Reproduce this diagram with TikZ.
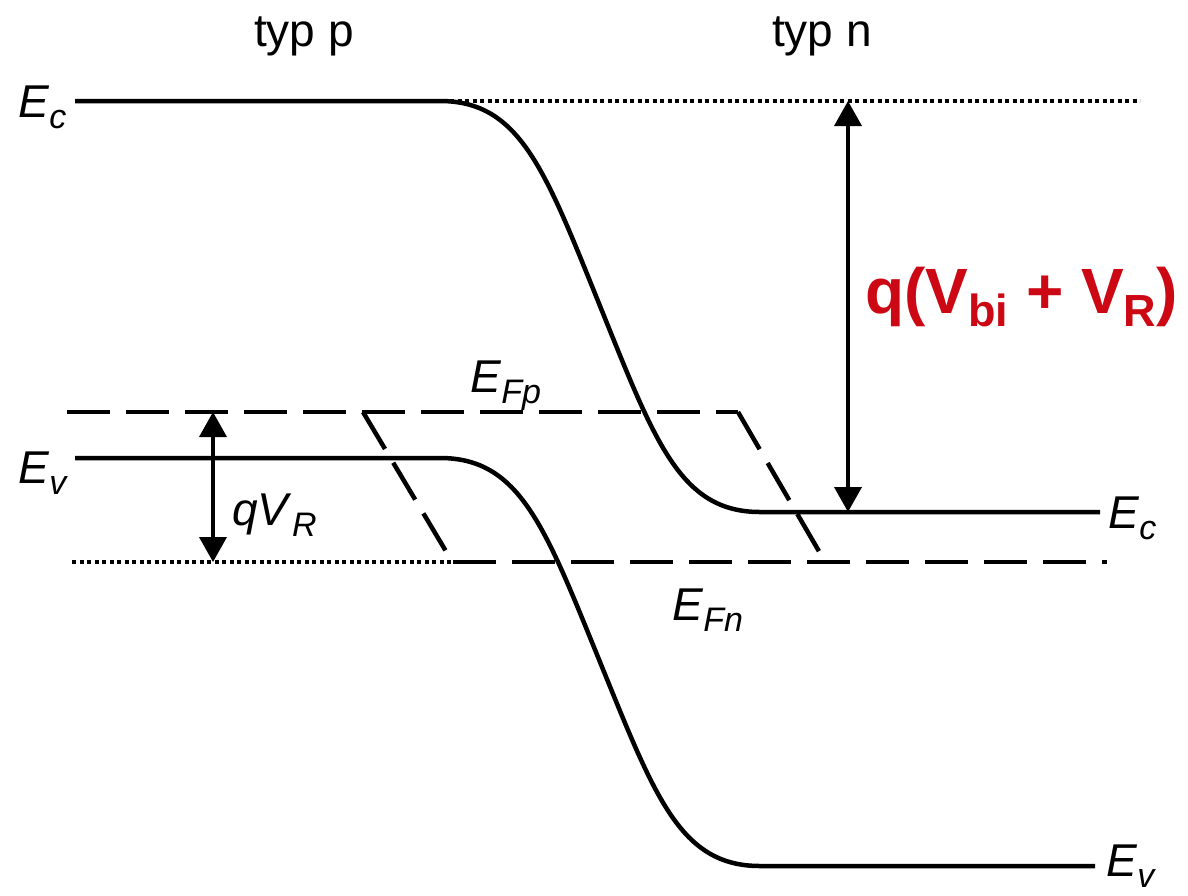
\documentclass[tikz,border=0pt]{standalone}
\usepackage{fontspec}
\setmainfont{Liberation Sans}
\usetikzlibrary{arrows.meta}
\definecolor{redlab}{RGB}{204,8,20}
\newcommand\lvlab[2]{\textit{#1}\raisebox{-11pt}{\fontsize{34}{34}\selectfont\itshape #2}}
\newcommand\redsub[1]{\raisebox{-13pt}{\fontsize{45}{45}\selectfont\bfseries #1}}
\begin{document}
\begin{tikzpicture}[x=1pt,y=-1pt,
  band/.style={line width=4.5pt},
  qfl/.style={line width=4.5pt, dash pattern=on 43pt off 16pt},
  refl/.style={line width=4pt, dash pattern=on 4pt off 3.5pt},
  dim/.style={line width=3.8pt, {Triangle[width=27pt,length=25pt]}-{Triangle[width=27pt,length=25pt]}},
  lab/.style={inner sep=0pt, anchor=base west, font=\fontsize{46}{46}\selectfont},
  head/.style={inner sep=0pt, anchor=base, font=\fontsize{46}{46}\selectfont}]
\useasboundingbox (0,0) rectangle (1188,895);
% key points
\coordinate (ecL) at (75,101);
\coordinate (ecR) at (1100,512);
\coordinate (evL) at (75,458);
\coordinate (evR) at (1095,866);
\coordinate (topA) at (450,101);
\coordinate (topB) at (1140,101);
\coordinate (botA) at (72,562);
\coordinate (botB) at (455,562);
\coordinate (fpA) at (67,412);
\coordinate (fpB) at (738,412);
\coordinate (fpC) at (820,553);
\coordinate (fnA) at (363,412);
\coordinate (fnB) at (447,553);
\coordinate (fnC) at (453,562);
\coordinate (fnD) at (1107,562);
\coordinate (bigT) at (848,101);
\coordinate (bigB) at (848,512);
\coordinate (smT) at (213,412);
\coordinate (smB) at (213,562);
% labels
\node[head] (typp) at (304,46) {typ p};
\node[head] (typn) at (822,46) {typ n};
\node[lab] (lEcL) at (18,117) {\lvlab{E}{c}};
\node[lab] (lEvL) at (18,483) {\lvlab{E}{v}};
\node[lab] (lEcR) at (1108,528) {\lvlab{E}{c}};
\node[lab] (lEvR) at (1106,876) {\lvlab{E}{v}};
\node[lab] (lFp) at (470,392) {\lvlab{E}{Fp}};
\node[lab] (lFn) at (672,620) {\lvlab{E}{Fn}};
\node[lab] (lqV) at (232,525) {\lvlab{qV}{R}};
\node[inner sep=0pt, anchor=base west, text=redlab, font=\fontsize{64}{64}\selectfont\bfseries] (lred) at (865,313) {q(V\redsub{bi} + V\redsub{R})};
% reference dotted lines
\draw[refl] (topA) -- (topB);
\draw[refl] (botA) -- (botB);
% bands
\draw[band] (ecL) -- (440,101) .. controls (520,101) and (545,170) .. (600,306) .. controls (655,442) and (680,512) .. (760,512) -- (ecR);
\draw[band] (evL) -- (440,458) .. controls (520,458) and (545,527) .. (600,662) .. controls (655,797) and (680,866) .. (760,866) -- (evR);
% quasi Fermi levels
\draw[qfl] (fpA) -- (fpB);
\draw[qfl] (fpB) -- (fpC);
\draw[qfl] (fnA) -- (fnB);
\draw[qfl] (fnC) -- (fnD);
% dimension arrows
\draw[dim] (bigT) -- (bigB);
\draw[dim] (smT) -- (smB);
\end{tikzpicture}
\end{document}
